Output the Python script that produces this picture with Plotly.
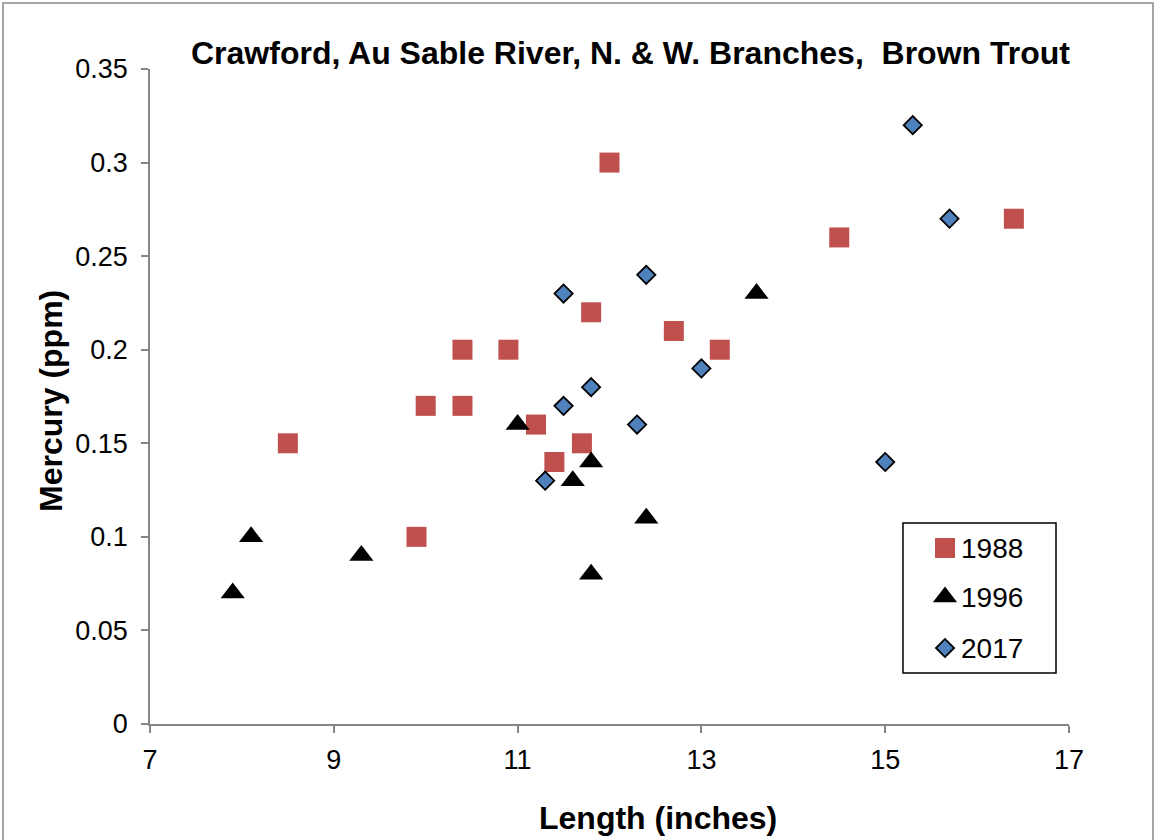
import plotly.graph_objects as go

# Data
len_1988 = [8.5, 9.9, 10.0, 10.4, 10.4, 10.9, 11.2, 11.4, 11.7, 11.8, 12.0, 12.7, 13.2, 14.5, 16.4]
hg_1988 = [0.15, 0.10, 0.17, 0.20, 0.17, 0.20, 0.16, 0.14, 0.15, 0.22, 0.30, 0.21, 0.20, 0.26, 0.27]

len_1996 = [7.9, 8.1, 9.3, 11.0, 11.6, 11.8, 11.8, 12.4, 13.6]
hg_1996 = [0.07, 0.10, 0.09, 0.16, 0.13, 0.14, 0.08, 0.11, 0.23]

len_2017 = [11.3, 11.5, 11.5, 11.8, 12.3, 12.4, 13.0, 15.0, 15.3, 15.7]
hg_2017 = [0.13, 0.23, 0.17, 0.18, 0.16, 0.24, 0.19, 0.14, 0.32, 0.27]

series_names = ["1988", "1996", "2017"]
x_ticks = [7, 9, 11, 13, 15, 17]
y_ticks = [0, 0.05, 0.1, 0.15, 0.2, 0.25, 0.3, 0.35]
y_labels = ["0", "0.05", "0.1", "0.15", "0.2", "0.25", "0.3", "0.35"]

FONT = "Liberation Sans, Arial, sans-serif"
AXIS_COLOR = "#868686"

# series styles
styles = [
    dict(symbol="square", size=20, color="#C0504D", line=dict(width=0)),
    dict(symbol="triangle-up", size=21, color="#000000", line=dict(width=0)),
    dict(symbol="diamond", size=14, color="#4F81BD", line=dict(width=1.8, color="#000000")),
]

# Body margin is removed with post_script, so screen px == figure px.
W, H = 1156, 840
SL, SR, ST, SB = 150, 1069, 69, 724   # plot area in px
L, T = SL, ST
R = W - SR
B = H - SB
pw, ph = SR - SL, SB - ST

def px_x(p):
    return (p - SL) / pw

def px_y(p):
    return (SB - p) / ph

fig = go.Figure()
for xs, ys, nm, st in zip([len_1988, len_1996, len_2017],
                          [hg_1988, hg_1996, hg_2017], series_names, styles):
    fig.add_trace(go.Scatter(x=xs, y=ys, mode="markers", name=nm, marker=st,
                             showlegend=False, cliponaxis=False))

# Manual legend in pixel-space axes (x2/y2)
leg_y = [548, 597, 648]
for nm, st, ly in zip(series_names, styles, leg_y):
    fig.add_trace(go.Scatter(x=[945], y=[ly], mode="markers", marker=st,
                             xaxis="x2", yaxis="y2", showlegend=False,
                             hoverinfo="skip", cliponaxis=False))

annotations = [
    dict(text="<b>Crawford, Au Sable River, N. & W. Branches,  Brown Trout</b>",
         xref="paper", yref="paper", x=px_x(630), y=px_y(53),
         xanchor="center", yanchor="middle", showarrow=False,
         font=dict(size=32, family=FONT)),
    dict(text="<b>Length (inches)</b>",
         xref="paper", yref="paper", x=px_x(658), y=px_y(818),
         xanchor="center", yanchor="middle", showarrow=False,
         font=dict(size=32, family=FONT)),
    dict(text="<b>Mercury (ppm)</b>",
         xref="paper", yref="paper", x=px_x(51), y=px_y(401),
         xanchor="center", yanchor="middle", showarrow=False, textangle=-90,
         font=dict(size=32, family=FONT)),
]
for nm, ly in zip(series_names, leg_y):
    annotations.append(dict(text=nm, xref="x2", yref="y2", x=959, y=ly,
                            xanchor="left", yanchor="middle", showarrow=False,
                            font=dict(size=28, family=FONT)))

fig.update_layout(
    width=W, height=H,
    margin=dict(l=L, r=R, t=T, b=B),
    paper_bgcolor="white", plot_bgcolor="white",
    font=dict(family=FONT, size=27, color="#000000"),
    showlegend=False,
    xaxis=dict(range=[7, 17], tickvals=x_ticks, ticktext=[str(v) for v in x_ticks],
               showgrid=False, zeroline=False, showline=True, linecolor=AXIS_COLOR,
               linewidth=1.5, ticks="outside", ticklen=7, tickcolor=AXIS_COLOR,
               tickwidth=1.5, tickfont=dict(size=27, family=FONT),
               ticklabelstandoff=4),
    yaxis=dict(range=[0, 0.35], tickvals=y_ticks, ticktext=y_labels,
               showgrid=False, zeroline=False, showline=True, linecolor=AXIS_COLOR,
               linewidth=1.5, ticks="outside", ticklen=7, tickcolor=AXIS_COLOR,
               tickwidth=1.5, tickfont=dict(size=27, family=FONT),
               ticklabelstandoff=8),
    xaxis2=dict(range=[SL, SR], overlaying="x", visible=False, fixedrange=True),
    yaxis2=dict(range=[SB, ST], overlaying="y", visible=False, fixedrange=True),
    annotations=annotations,
    shapes=[
        dict(type="rect", xref="paper", yref="paper",
             x0=px_x(3), x1=px_x(1153), y0=px_y(850), y1=px_y(3),
             line=dict(color="#888888", width=1.5), fillcolor="rgba(0,0,0,0)",
             layer="below"),
        dict(type="rect", xref="x2", yref="y2",
             x0=903, x1=1056, y0=523, y1=673,
             line=dict(color="#000000", width=1.5), fillcolor="white",
             layer="below"),
    ],
)

fig.write_html("out.html",
               config={"displayModeBar": False},
               post_script="document.body.style.margin='0px';")
